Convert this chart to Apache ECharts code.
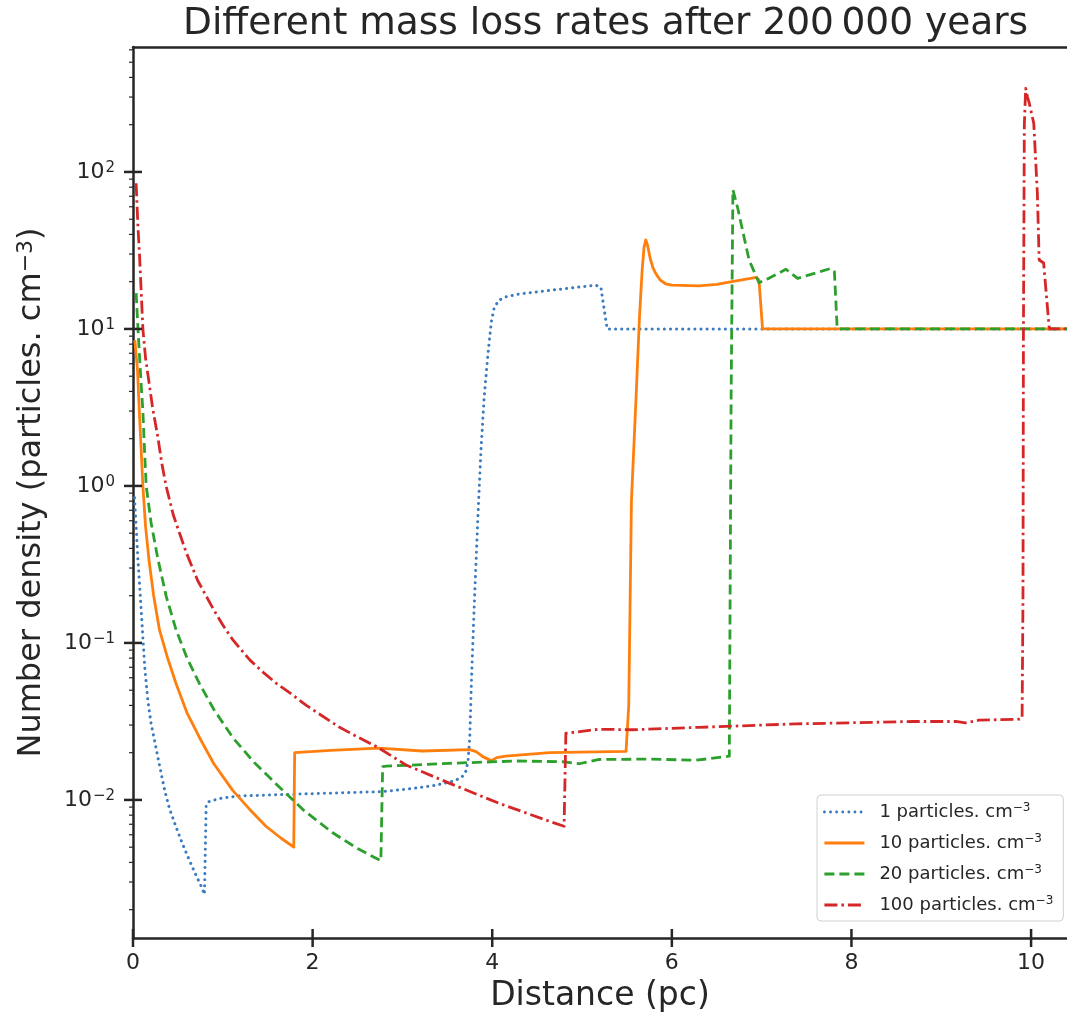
<!DOCTYPE html>
<html><head><meta charset="utf-8">
<script src="https://cdn.jsdelivr.net/npm/echarts@6/dist/echarts.min.js"></script>
<style>html,body{margin:0;padding:0;background:#fff}#c{width:1067px;height:1021px}</style>
</head><body><div id="c"></div>
<script>
const titleText = 'Different mass loss rates after 200\u2009000 years';
const xName = 'Distance (pc)';
const seriesNames = ['1 particles. cm^\u22123', '10 particles. cm^\u22123', '20 particles. cm^\u22123', '100 particles. cm^\u22123'];
const seriesColors = ['#3a7bbf', '#ff7f0e', '#2ca02c', '#d62728'];

const n1 = [[0.017,0.84],[0.035,0.55],[0.054,0.345],[0.07,0.25],[0.09,0.166],[0.11,0.107],[0.13,0.071],[0.165,0.043],[0.2,0.031],[0.25,0.0224],[0.295,0.0166],[0.35,0.0117],[0.406,0.0088],[0.48,0.0067],[0.554,0.0052],[0.63,0.0041],[0.703,0.0033],[0.75,0.0029],[0.796,0.0025],[0.815,0.0093],[0.85,0.0098],[1.0,0.0103],[1.185,0.0106],[1.85,0.0109],[2.78,0.0113],[3.1,0.0118],[3.37,0.0124],[3.55,0.0131],[3.65,0.0138],[3.70,0.0148],[3.73,0.0175],[3.75,0.025],[3.77,0.06],[3.80,0.175],[3.84,0.62],[3.875,1.70],[3.91,3.64],[3.95,6.67],[3.99,11.1],[4.02,13.5],[4.07,15.2],[4.15,16],[4.3,16.7],[4.6,17.5],[4.9,18.3],[5.155,19.0],[5.21,18.4],[5.25,12.9],[5.28,10],[10.4,10]];
const n10 = [[0.02,8.5],[0.05,5.5],[0.07,3.0],[0.085,2.0],[0.11,1.0],[0.14,0.55],[0.18,0.33],[0.23,0.2],[0.295,0.121],[0.38,0.082],[0.48,0.055],[0.6,0.036],[0.74,0.025],[0.9,0.017],[1.11,0.0115],[1.3,0.0087],[1.48,0.0068],[1.65,0.0057],[1.79,0.0050],[1.80,0.020],[2.2,0.0207],[2.74,0.0214],[3.22,0.0205],[3.75,0.0209],[3.82,0.0203],[3.9,0.0188],[3.99,0.0178],[4.05,0.0186],[4.15,0.019],[4.64,0.020],[5.49,0.0204],[5.52,0.04],[5.55,0.8],[5.6,3.5],[5.64,12],[5.67,24],[5.69,33],[5.71,36.9],[5.73,34],[5.76,28],[5.79,24.5],[5.82,22.6],[5.87,20.5],[5.93,19.4],[6.0,19],[6.3,18.8],[6.5,19.2],[6.67,20],[6.94,21.3],[6.97,20.5],[7.01,10],[10.4,10]];
const n20 = [[0.035,16.9],[0.06,9],[0.09,4.5],[0.11,3.0],[0.128,1.7],[0.147,1.0],[0.2,0.59],[0.276,0.345],[0.37,0.198],[0.48,0.121],[0.6,0.0805],[0.74,0.055],[0.9,0.0377],[1.11,0.025],[1.35,0.0173],[1.59,0.0127],[1.9,0.0086],[2.22,0.0062],[2.5,0.0049],[2.76,0.0041],[2.78,0.0163],[2.82,0.0164],[3.52,0.0171],[4.26,0.0177],[4.8,0.0175],[4.97,0.017],[5.19,0.0181],[5.75,0.0182],[6.27,0.0179],[6.64,0.019],[6.66,3.7],[6.68,77],[6.73,60],[6.86,27.5],[6.97,19.7],[7.08,21],[7.27,24],[7.4,21],[7.77,24.3],[7.81,23.2],[7.84,10.4],[7.86,10],[10.4,10]];
const n100 = [[0.035,84.7],[0.055,45],[0.072,30],[0.09,18],[0.11,10],[0.14,6.5],[0.18,4.5],[0.22,3.1],[0.276,2.06],[0.32,1.4],[0.37,0.99],[0.45,0.65],[0.59,0.38],[0.72,0.25],[0.89,0.166],[1.0,0.13],[1.11,0.105],[1.2,0.091],[1.3,0.078],[1.45,0.065],[1.6,0.055],[1.77,0.047],[1.93,0.040],[2.1,0.0345],[2.3,0.029],[2.5,0.0252],[2.71,0.0219],[3.04,0.0167],[3.52,0.0128],[4.08,0.0095],[4.64,0.0073],[4.80,0.0068],[4.82,0.0266],[5.19,0.0282],[5.56,0.028],[6.3,0.029],[7.38,0.0305],[8.68,0.0316],[9.16,0.0316],[9.27,0.031],[9.42,0.0322],[9.87,0.0327],[9.90,0.033],[9.91,0.2],[9.915,10],[9.925,200],[9.94,341],[9.96,300],[9.98,274],[10.03,204],[10.07,73],[10.09,27.5],[10.14,26.3],[10.2,10.4],[10.21,10],[10.4,10]];

const xTickVals = [0, 2, 4, 6, 8, 10];
const yMajorVals = [0.01, 0.1, 1, 10, 100];
const yMinorVals = [0.002,0.003,0.004,0.005,0.006,0.007,0.008,0.009,0.02,0.03,0.04,0.05,0.06,0.07,0.08,0.09,0.2,0.3,0.4,0.5,0.6,0.7,0.8,0.9,2,3,4,5,6,7,8,9,20,30,40,50,60,70,80,90,200,300,400,500,600];

const xMin = 0, xMax = 10.4, yMin = 0.00132, yMax = 625;
const ink = '#262626';
const FONT = 'DejaVu Sans';

const dashTypes = [[0.1, 6], 'solid', [10, 5], [13, 4, 2.5, 4]];
const lineWidths = [3, 2.8, 2.8, 2.8];
const lineSeries = [n1, n10, n20, n100].map((d, i) => ({
  type: 'line', name: seriesNames[i], data: d, showSymbol: false, symbol: 'none',
  xAxisIndex: 0, yAxisIndex: 0, z: 3 + i,
  lineStyle: { color: seriesColors[i], width: lineWidths[i], type: dashTypes[i], cap: i === 0 ? 'round' : 'butt', join: 'round' },
  itemStyle: { color: seriesColors[i] },
  emphasis: { disabled: true }
}));

const tickData = []
  .concat(yMinorVals.map(v => [xMin, v, 0]))
  .concat(yMajorVals.map(v => [xMin, v, 1]))
  .concat(xTickVals.map(v => [v, yMin, 2]));

const ticksSeries = {
  type: 'custom', name: 'ticks', silent: true, clip: false, z: 10,
  xAxisIndex: 0, yAxisIndex: 0,
  data: tickData,
  encode: { x: 0, y: 1 },
  renderItem(params, api) {
    const kind = api.value(2);
    const p = api.coord([api.value(0), api.value(1)]);
    let shape;
    if (kind === 0) shape = { x1: p[0] - 4, y1: p[1], x2: p[0], y2: p[1] };
    else if (kind === 1) shape = { x1: p[0] - 9, y1: p[1], x2: p[0] + 9, y2: p[1] };
    else shape = { x1: p[0], y1: p[1] - 9, x2: p[0], y2: p[1] + 9 };
    return { type: 'line', shape, style: { stroke: ink, lineWidth: kind === 0 ? 1.2 : 2.5 } };
  }
};

const supRich = {
  b: { fontFamily: FONT, fontSize: 22, color: ink },
  s: { fontFamily: FONT, fontSize: 15, color: ink, verticalAlign: 'top', padding: [0, 0, 8, 1] }
};

const chart = echarts.init(document.getElementById('c'), null, { renderer: 'canvas' });
chart.setOption({
  animation: false,
  backgroundColor: '#ffffff',
  title: {
    text: titleText, left: 178, top: 0,
    textStyle: { fontFamily: FONT, fontSize: 37.5, fontWeight: 'normal', color: ink }
  },
  grid: { left: 133, top: 47, right: 0, bottom: 83, containLabel: false },
  legend: {
    data: seriesNames, orient: 'vertical', left: 817, top: 795,
    padding: [7, 10, 7, 6], itemGap: 12, itemWidth: 40, itemHeight: 14,
    borderColor: '#d0d0d0', borderWidth: 1, borderRadius: 4, backgroundColor: 'rgba(255,255,255,0.85)',
    itemStyle: { opacity: 0, borderWidth: 0 },
    lineStyle: { width: 2.8 },
    formatter: name => { const parts = name.split('^'); return '{a|' + parts[0] + '}{s|' + parts[1] + '}'; },
    textStyle: {
      fontFamily: FONT, fontSize: 18, color: ink,
      rich: {
        a: { fontFamily: FONT, fontSize: 18, color: ink, padding: [0, 0, 0, 10] },
        s: { fontFamily: FONT, fontSize: 12, color: ink, verticalAlign: 'top', padding: [0, 0, 8, 0] }
      }
    }
  },
  xAxis: [{
    type: 'value', min: xMin, max: xMax, interval: 2, position: 'bottom',
    name: xName, nameLocation: 'middle', nameGap: 42,
    nameTextStyle: { fontFamily: FONT, fontSize: 33, color: ink },
    axisLine: { show: true, onZero: false, lineStyle: { color: ink, width: 2.5 } },
    axisTick: { show: false },
    splitLine: { show: false },
    axisLabel: {
      fontFamily: FONT, fontSize: 22, color: ink, margin: 14, showMaxLabel: false,
      formatter: v => (Math.abs(v / 2 - Math.round(v / 2)) < 1e-9 ? String(v) : '')
    }
  }, {
    type: 'value', min: xMin, max: xMax, position: 'top',
    axisLine: { show: true, onZero: false, lineStyle: { color: ink, width: 2.5 } },
    axisTick: { show: false }, axisLabel: { show: false }, splitLine: { show: false }
  }],
  yAxis: [{
    type: 'log', logBase: 10, min: yMin, max: yMax, position: 'left',
    name: '{a|Number density (particles. cm}{s|\u22123}{a|)}', nameLocation: 'middle', nameGap: 84, nameRotate: 90,
    nameTextStyle: {
      fontFamily: FONT, fontSize: 32, color: ink,
      rich: {
        a: { fontFamily: FONT, fontSize: 32, color: ink },
        s: { fontFamily: FONT, fontSize: 22, color: ink, verticalAlign: 'top', padding: [0, 0, 12, 0] }
      }
    },
    axisLine: { show: true, onZero: false, lineStyle: { color: ink, width: 2.5 } },
    axisTick: { show: false },
    minorTick: { show: false },
    splitLine: { show: false },
    axisLabel: {
      margin: 18, showMinLabel: false, showMaxLabel: false,
      formatter: v => {
        const l = Math.log10(v), e = Math.round(l);
        if (Math.abs(l - e) > 1e-6) return '';
        return '{b|10}{s|' + (e < 0 ? '\u2212' + (-e) : e) + '}';
      },
      rich: supRich
    }
  }],
  series: lineSeries.concat([ticksSeries])
});
</script>
</body></html>
